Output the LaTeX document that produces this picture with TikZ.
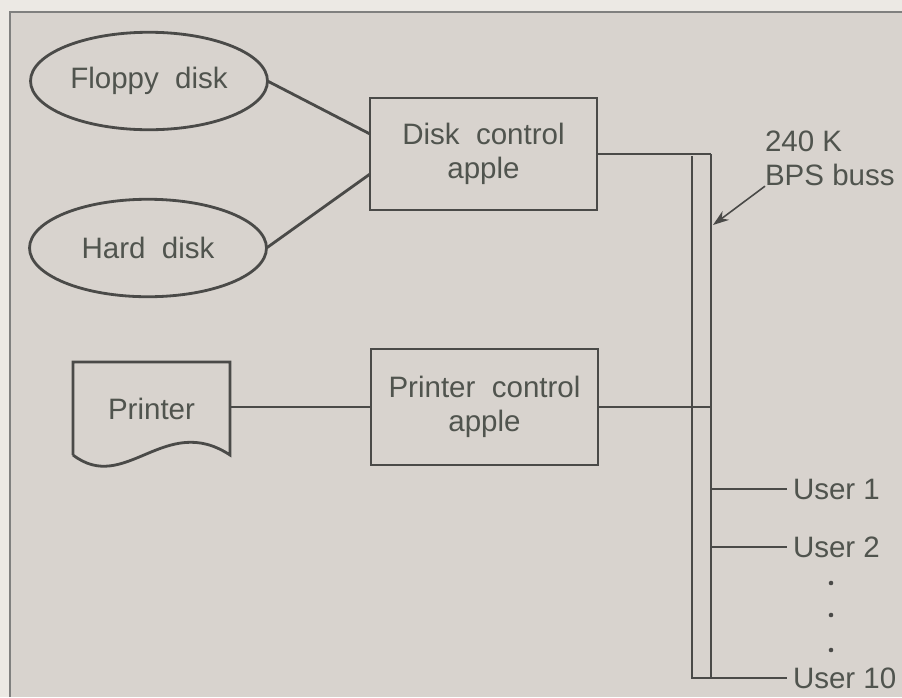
\documentclass[tikz,border=0pt]{standalone}
\usepackage{fontspec}
\setmainfont{Liberation Sans}
\usetikzlibrary{shapes.geometric,arrows.meta}
\definecolor{card}{RGB}{216,211,206}
\definecolor{paper}{RGB}{236,233,228}
\definecolor{ink}{RGB}{74,74,72}
\definecolor{type}{RGB}{80,84,78}

\begin{document}
\begin{tikzpicture}[x=0.02cm,y=-0.02cm,>={Stealth[length=3.2mm,width=2.2mm]},
 every node/.style={font=\fontsize{16.8}{19.5}\selectfont,text=type,inner sep=0pt,outer sep=0pt},
 wire/.style={draw=ink,line width=1.6pt},
 drive/.style={wire,ellipse,minimum width=4.74cm,minimum height=1.95cm},
 unit/.style={wire,minimum width=4.54cm,align=center},
 tap/.style={anchor=west,inner xsep=0.12cm}]
  \useasboundingbox (0,0) rectangle (902,697);
  \fill[paper] (0,0) rectangle (902,697);
  \fill[card] (10,12) rectangle (902,697);
  \draw[ink!70,line width=0.8pt] (10,697)--(10,12)--(902,12);
  \node[drive] (floppy) at (149,81) {Floppy\ \ disk};
  \node[drive] (hard) at (148,248) {Hard\ \ disk};
  \node[unit,minimum height=2.24cm] (diskctl) at (483.5,154) {Disk\ \ control\\apple};
  \node[unit,minimum height=2.32cm] (prnctl) at (484.5,407) {Printer\ \ control\\apple};
  \node[minimum width=3.14cm,minimum height=1.86cm] (printer) at (151.5,408.5) {Printer};
  \draw[wire] (printer.south west)--(printer.north west)--(printer.north east)--(printer.south east)
    .. controls (165,412) and (125,495) .. (printer.south west);
  \draw[wire] (floppy.east)--(diskctl.170);
  \draw[wire] (hard.east)--(diskctl.190);
  \draw[wire] (prnctl.west -| printer.east)--(prnctl.west);
  % the two rails of the buss
  \coordinate (busR) at (711,153);
  \coordinate (busL) at (692,156);
  \node[tap] (user1) at (787,489) {User 1};
  \node[tap] (user2) at (787,547) {User 2};
  \node[tap] (user10) at (787,678) {User 10};
  \draw[wire] (diskctl.east -| busR) -- (diskctl.east);
  \draw[wire] (diskctl.east -| busR)--(busR |- user10.west);
  \draw[wire] (busL)--(busL |- user10.west)--(user10.west);
  \draw[wire] (prnctl.east)--(prnctl.east -| busR);
  \draw[wire] (user1.west -| busR)--(user1.west);
  \draw[wire] (user2.west -| busR)--(user2.west);
  \foreach \y in {583,615,650}{\fill[ink] (831,\y) circle (1.3pt);}
  \node[anchor=north west,align=left] (buss) at (765,131) {240 K\\BPS buss};
  \coordinate (hit) at (713,225);
  \draw[->,draw=ink,fill=ink,line width=0.9pt] (buss.south west)--(hit);
\end{tikzpicture}
\end{document}
